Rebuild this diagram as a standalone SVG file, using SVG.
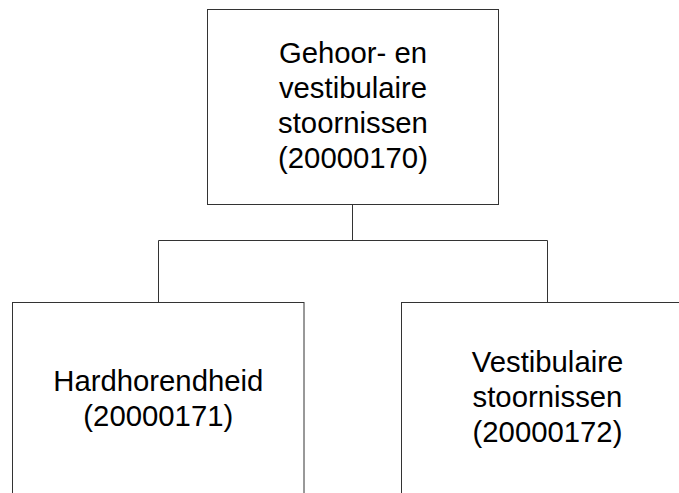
<svg xmlns="http://www.w3.org/2000/svg" width="679" height="493" viewBox="0 0 679 493">
<style>
.box{fill:#fff;stroke:#333;stroke-width:1}
.con{fill:none;stroke:#333;stroke-width:1}
text{font-family:"Liberation Sans",Arial,sans-serif;font-size:29.3px;fill:#000;text-anchor:middle}
</style>
<rect width="679" height="493" fill="#fff"/>
<g id="connectors">
<path class="con" d="M352.5 204.5V240.5M158.5 240.5H547.5M158.5 240.5V302.5M547.5 240.5V302.5"/>
</g>
<g id="node-20000170">
<rect class="box" x="207.5" y="9.5" width="291" height="195"/>
<text x="353" y="63.3">Gehoor- en</text>
<text x="353" y="98.3">vestibulaire</text>
<text x="353" y="133.3">stoornissen</text>
<text x="353" y="168.3">(20000170)</text>
</g>
<g id="node-20000171">
<rect class="box" x="12.5" y="302.5" width="291.5" height="220"/>
<text x="158.3" y="390.7">Hardhorendheid</text>
<text x="158.3" y="425.7">(20000171)</text>
</g>
<g id="node-20000172">
<rect class="box" x="401.5" y="302.5" width="292" height="220"/>
<text x="547.5" y="372.3">Vestibulaire</text>
<text x="547.5" y="407.3">stoornissen</text>
<text x="547.5" y="442.3">(20000172)</text>
</g>
</svg>
